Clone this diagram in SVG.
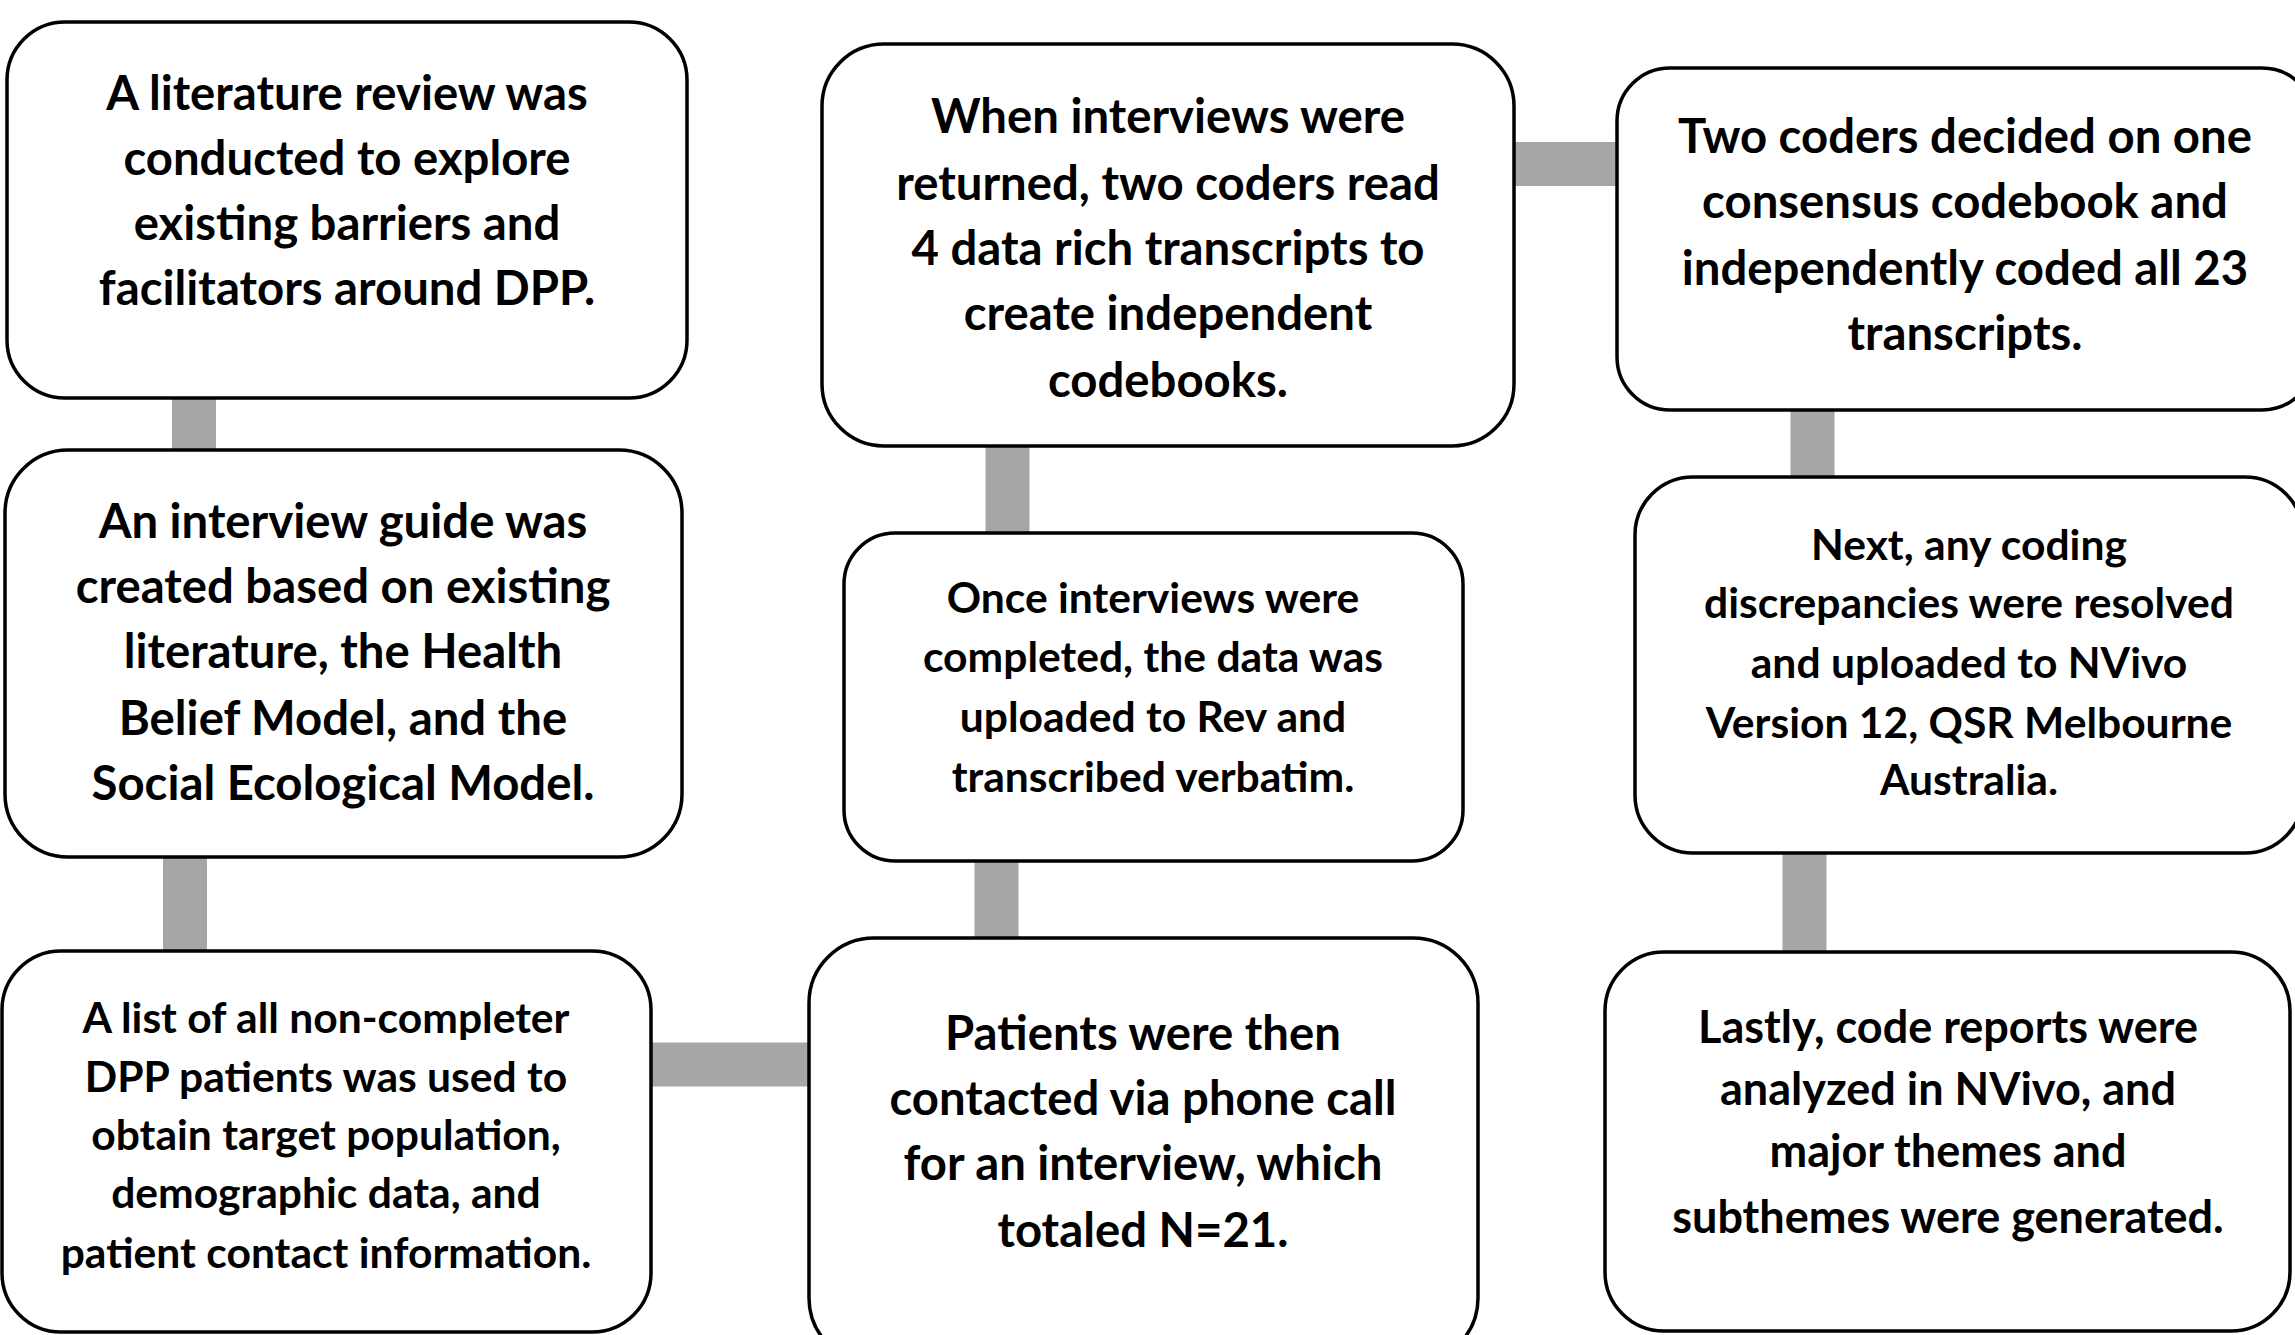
<svg xmlns="http://www.w3.org/2000/svg" width="2295" height="1335" viewBox="0 0 2295 1335">
<style>
.box{fill:#ffffff;stroke:#000000;stroke-width:3.5}
.conn{stroke:#a6a6a6;stroke-width:44;fill:none}
text{font-family:Lato,"Open Sans","Liberation Sans",sans-serif;font-weight:bold;fill:#000000;text-anchor:middle}
.big{font-size:47.3px}
.mid{font-size:45px}
.small{font-size:42.6px}
</style>
<rect x="0" y="0" width="2295" height="1335" fill="#ffffff"/>
<g id="connectors">
<line class="conn" x1="194" y1="396" x2="194" y2="452"/>
<line class="conn" x1="185" y1="855" x2="185" y2="953"/>
<line class="conn" x1="649" y1="1064.5" x2="811" y2="1064.5"/>
<line class="conn" x1="996.5" y1="859" x2="996.5" y2="940"/>
<line class="conn" x1="1007.5" y1="444" x2="1007.5" y2="535"/>
<line class="conn" x1="1512" y1="164" x2="1619" y2="164"/>
<line class="conn" x1="1812.5" y1="408" x2="1812.5" y2="479"/>
<line class="conn" x1="1804.5" y1="851" x2="1804.5" y2="954"/>
</g>
<g id="node-literature">
<rect class="box" x="7" y="22" width="680" height="376" rx="58"/>
<text class="big"><tspan x="347" y="110">A literature review was</tspan><tspan x="347" y="175">conducted to explore</tspan><tspan x="347" y="240">existing barriers and</tspan><tspan x="347" y="305">facilitators around DPP.</tspan></text>
</g>
<g id="node-guide">
<rect class="box" x="5" y="450" width="677" height="407" rx="63"/>
<text class="big"><tspan x="343" y="538">An interview guide was</tspan><tspan x="343" y="603">created based on existing</tspan><tspan x="343" y="668">literature, the Health</tspan><tspan x="343" y="735">Belief Model, and the</tspan><tspan x="343" y="800">Social Ecological Model.</tspan></text>
</g>
<g id="node-list">
<rect class="box" x="2" y="951" width="649" height="381" rx="59"/>
<text class="small"><tspan x="326" y="1033">A list of all non-completer</tspan><tspan x="326" y="1092">DPP patients was used to</tspan><tspan x="326" y="1150">obtain target population,</tspan><tspan x="326" y="1208">demographic data, and</tspan><tspan x="326" y="1268">patient contact information.</tspan></text>
</g>
<g id="node-contact">
<rect class="box" x="809" y="938" width="669" height="425" rx="65"/>
<text class="big"><tspan x="1143" y="1050">Patients were then</tspan><tspan x="1143" y="1115">contacted via phone call</tspan><tspan x="1143" y="1180">for an interview, which</tspan><tspan x="1143" y="1247">totaled N=21.</tspan></text>
</g>
<g id="node-transcribe">
<rect class="box" x="844" y="533" width="619" height="328" rx="51"/>
<text class="small"><tspan x="1153" y="613">Once interviews were</tspan><tspan x="1153" y="672">completed, the data was</tspan><tspan x="1153" y="732">uploaded to Rev and</tspan><tspan x="1153" y="792">transcribed verbatim.</tspan></text>
</g>
<g id="node-codebooks">
<rect class="box" x="822" y="44" width="692" height="402" rx="62"/>
<text class="big"><tspan x="1168" y="133">When interviews were</tspan><tspan x="1168" y="200">returned, two coders read</tspan><tspan x="1168" y="265">4 data rich transcripts to</tspan><tspan x="1168" y="330">create independent</tspan><tspan x="1168" y="397">codebooks.</tspan></text>
</g>
<g id="node-consensus">
<rect class="box" x="1617" y="68" width="698" height="342" rx="53"/>
<text class="big"><tspan x="1965" y="153">Two coders decided on one</tspan><tspan x="1965" y="218">consensus codebook and</tspan><tspan x="1965" y="285">independently coded all 23</tspan><tspan x="1965" y="350">transcripts.</tspan></text>
</g>
<g id="node-nvivo">
<rect class="box" x="1635" y="477" width="668" height="376" rx="58"/>
<text class="small"><tspan x="1969" y="560">Next, any coding</tspan><tspan x="1969" y="618">discrepancies were resolved</tspan><tspan x="1969" y="678">and uploaded to NVivo</tspan><tspan x="1969" y="738">Version 12, QSR Melbourne</tspan><tspan x="1969" y="795">Australia.</tspan></text>
</g>
<g id="node-themes">
<rect class="box" x="1605" y="952" width="685" height="379" rx="59"/>
<text class="mid"><tspan x="1948" y="1043">Lastly, code reports were</tspan><tspan x="1948" y="1105">analyzed in NVivo, and</tspan><tspan x="1948" y="1167">major themes and</tspan><tspan x="1948" y="1233">subthemes were generated.</tspan></text>
</g>
</svg>
